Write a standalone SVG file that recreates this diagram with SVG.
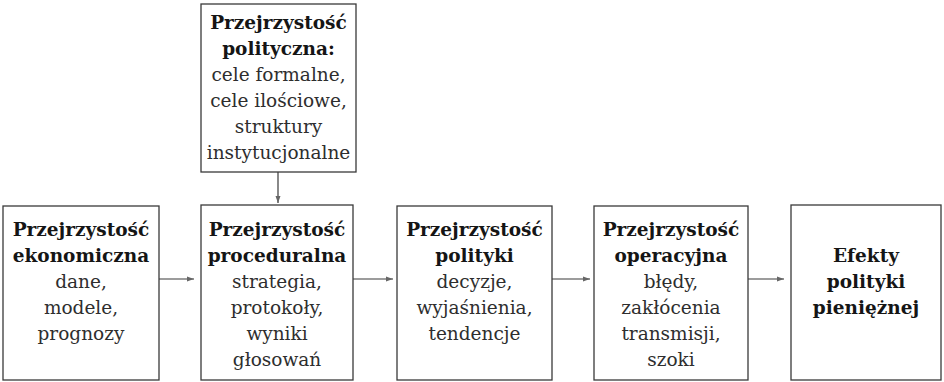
<svg xmlns="http://www.w3.org/2000/svg" width="944" height="382" viewBox="0 0 944 382">
<defs>
<style>
.box{fill:#fff;stroke:#3a3a3a;stroke-width:1.3}
.t{font-family:"DejaVu Serif","Liberation Serif",serif;font-size:18.5px;fill:#2e2e2e;text-anchor:middle}
.b{font-weight:bold;fill:#151515}
.c{stroke:#3a3a3a;stroke-width:1.2;fill:none}
</style>
<marker id="ah" markerWidth="8" markerHeight="8" refX="7" refY="4" orient="auto" markerUnits="userSpaceOnUse">
<path d="M0,1.5 L7,4 L0,6.5 Z" fill="#666"/>
</marker>
</defs>
<rect width="944" height="382" fill="#fff"/>
<g id="top">
<rect class="box" x="201" y="4" width="155" height="168"/>
<text class="t b" x="278.5" y="29">Przejrzystość</text>
<text class="t b" x="278.5" y="55">polityczna:</text>
<text class="t" x="278.5" y="81">cele formalne,</text>
<text class="t" x="278.5" y="107">cele ilościowe,</text>
<text class="t" x="278.5" y="133">struktury</text>
<text class="t" x="278.5" y="159">instytucjonalne</text>
</g>
<g id="n1">
<rect class="box" x="3" y="206" width="156" height="174"/>
<text class="t b" x="81" y="236">Przejrzystość</text>
<text class="t b" x="81" y="262">ekonomiczna</text>
<text class="t" x="81" y="288">dane,</text>
<text class="t" x="81" y="314">modele,</text>
<text class="t" x="81" y="340">prognozy</text>
</g>
<g id="n2">
<rect class="box" x="201" y="205" width="152" height="175"/>
<text class="t b" x="277" y="236">Przejrzystość</text>
<text class="t b" x="277" y="262">proceduralna</text>
<text class="t" x="277" y="288">strategia,</text>
<text class="t" x="277" y="314">protokoły,</text>
<text class="t" x="277" y="340">wyniki</text>
<text class="t" x="277" y="366">głosowań</text>
</g>
<g id="n3">
<rect class="box" x="397" y="206" width="155" height="174"/>
<text class="t b" x="474.5" y="236">Przejrzystość</text>
<text class="t b" x="474.5" y="262">polityki</text>
<text class="t" x="474.5" y="288">decyzje,</text>
<text class="t" x="474.5" y="314">wyjaśnienia,</text>
<text class="t" x="474.5" y="340">tendencje</text>
</g>
<g id="n4">
<rect class="box" x="594" y="206" width="154" height="174"/>
<text class="t b" x="671" y="236">Przejrzystość</text>
<text class="t b" x="671" y="262">operacyjna</text>
<text class="t" x="671" y="288">błędy,</text>
<text class="t" x="671" y="314">zakłócenia</text>
<text class="t" x="671" y="340">transmisji,</text>
<text class="t" x="671" y="366">szoki</text>
</g>
<g id="n5">
<rect class="box" x="791" y="205" width="150" height="175"/>
<text class="t b" x="866" y="262">Efekty</text>
<text class="t b" x="866" y="288">polityki</text>
<text class="t b" x="866" y="314">pieniężnej</text>
</g>
<g id="connectors">
<line class="c" x1="278" y1="172" x2="278" y2="203" marker-end="url(#ah)"/>
<line class="c" x1="159" y1="279" x2="194" y2="279" marker-end="url(#ah)"/>
<line class="c" x1="353" y1="279" x2="393" y2="279" marker-end="url(#ah)"/>
<line class="c" x1="552" y1="279" x2="590" y2="279" marker-end="url(#ah)"/>
<line class="c" x1="748" y1="279" x2="784" y2="279" marker-end="url(#ah)"/>
</g>
</svg>
